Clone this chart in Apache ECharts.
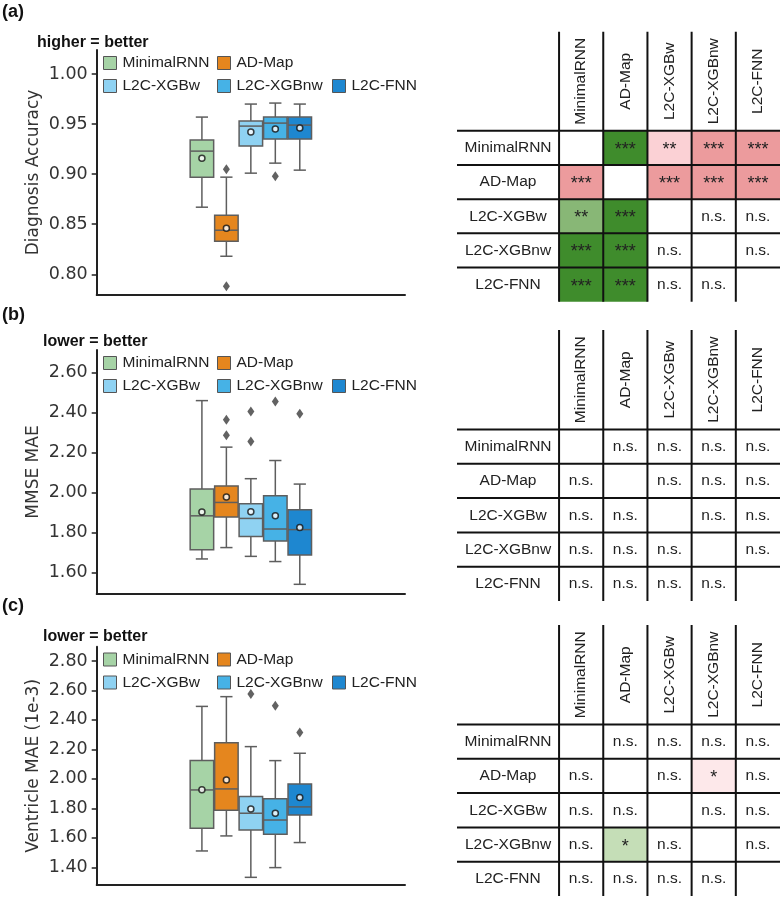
<!DOCTYPE html>
<html><head><meta charset="utf-8">
<script src="https://cdn.jsdelivr.net/npm/echarts@6/dist/echarts.min.js"></script>
<style>html,body{margin:0;padding:0;background:#fff}#c{width:783px;height:899px}</style>
</head><body><div id="c"></div>
<script>
// ---------------- DATA ----------------
const models = ['MinimalRNN', 'AD-Map', 'L2C-XGBw', 'L2C-XGBnw', 'L2C-FNN'];

const accTicks = [0.80, 0.85, 0.90, 0.95, 1.00];
const mmseTicks = [1.60, 1.80, 2.00, 2.20, 2.40, 2.60];
const ventTicks = [1.40, 1.60, 1.80, 2.00, 2.20, 2.40, 2.60, 2.80];

// box stats: [whiskerLow, Q1, median, Q3, whiskerHigh]
const accBox = [
  [0.867, 0.897, 0.923, 0.934, 0.957],
  [0.818, 0.833, 0.844, 0.859, 0.897],
  [0.901, 0.928, 0.948, 0.953, 0.970],
  [0.911, 0.935, 0.951, 0.957, 0.971],
  [0.904, 0.935, 0.949, 0.957, 0.970]
];
const accMean = [0.916, 0.846, 0.942, 0.945, 0.946];
const accOutliers = [[1, 0.905], [1, 0.788], [3, 0.898]];

const mmseBox = [
  [1.667, 1.713, 1.883, 2.017, 2.460],
  [1.724, 1.877, 1.950, 2.033, 2.227],
  [1.680, 1.780, 1.870, 1.944, 2.069],
  [1.654, 1.757, 1.817, 1.984, 2.160],
  [1.540, 1.687, 1.814, 1.914, 2.042]
];
const mmseMean = [1.902, 1.977, 1.904, 1.884, 1.825];
const mmseOutliers = [[1, 2.364], [1, 2.287], [2, 2.405], [2, 2.255], [3, 2.455], [4, 2.394]];

const ventBox = [
  [1.511, 1.665, 1.925, 2.124, 2.492],
  [1.613, 1.787, 1.932, 2.246, 2.558],
  [1.332, 1.653, 1.767, 1.880, 2.219],
  [1.398, 1.624, 1.721, 1.866, 2.124],
  [1.568, 1.755, 1.810, 1.966, 2.174]
];
const ventMean = [1.927, 1.993, 1.796, 1.767, 1.873];
const ventOutliers = [[2, 2.576], [3, 2.497], [4, 2.314]];

// significance tables (row vs column); '+' row better, '-' row worse
const sigAcc = [
  ['', '+***', '-**', '-***', '-***'],
  ['-***', '', '-***', '-***', '-***'],
  ['+**', '+***', '', 'n.s.', 'n.s.'],
  ['+***', '+***', 'n.s.', '', 'n.s.'],
  ['+***', '+***', 'n.s.', 'n.s.', '']
];
const sigMmse = [
  ['', 'n.s.', 'n.s.', 'n.s.', 'n.s.'],
  ['n.s.', '', 'n.s.', 'n.s.', 'n.s.'],
  ['n.s.', 'n.s.', '', 'n.s.', 'n.s.'],
  ['n.s.', 'n.s.', 'n.s.', '', 'n.s.'],
  ['n.s.', 'n.s.', 'n.s.', 'n.s.', '']
];
const sigVent = [
  ['', 'n.s.', 'n.s.', 'n.s.', 'n.s.'],
  ['n.s.', '', 'n.s.', '-*', 'n.s.'],
  ['n.s.', 'n.s.', '', 'n.s.', 'n.s.'],
  ['n.s.', '+*', 'n.s.', '', 'n.s.'],
  ['n.s.', 'n.s.', 'n.s.', 'n.s.', '']
];

// ---------------- STYLE ----------------
const modelColors = ['#a6d3a6', '#e5861e', '#8fd2f2', '#46b2e6', '#1e87d0'];
const sigColors = {
  '+***': '#3f8c2c', '+**': '#88b776', '+*': '#c5deb7',
  '-***': '#ec9b9d', '-**': '#fbd1d5', '-*': '#fde8ea'
};
const SANS = '"Liberation Sans", Arial, sans-serif';
const DJV = '"DejaVu Sans", sans-serif';

const chart = echarts.init(document.getElementById('c'), null, {renderer: 'canvas'});

const boxGrids = [
  {left: 96.7, top: 50, width: 308.3, height: 245},
  {left: 96.7, top: 350, width: 308.3, height: 244},
  {left: 96.7, top: 646.7, width: 308.3, height: 238.3}
];
const tableGrids = [
  {left: 457, top: 31.7, width: 323, height: 270},
  {left: 457, top: 330, width: 323, height: 271},
  {left: 457, top: 625, width: 323, height: 271}
];
const yRanges = [[0.7793, 1.024], [1.4915, 2.7135], [1.28, 2.897]];
const yNames = ['Diagnosis Accuracy', 'MMSE MAE', 'Ventricle MAE (1e-3)'];
const yTicks = [accTicks, mmseTicks, ventTicks];
const boxes = [accBox, mmseBox, ventBox];
const means = [accMean, mmseMean, ventMean];
const outliers = [accOutliers, mmseOutliers, ventOutliers];
const sigs = [sigAcc, sigMmse, sigVent];

const TX_MIN = -2.31, HDR = -2.9;

const grid = [], xAxis = [], yAxis = [], series = [], legend = [], title = [];

function boxRender(params, api) {
  const x = api.value(0);
  const lo = api.value(1), q1 = api.value(2), md = api.value(3), q3 = api.value(4), hi = api.value(5);
  const hw = 0.48, cw = 0.25;
  const tl = api.coord([x - hw, q3]), br = api.coord([x + hw, q1]);
  const cMd = api.coord([x, md]), cLo = api.coord([x, lo]), cHi = api.coord([x, hi]);
  const capL = api.coord([x - cw, lo])[0], capR = api.coord([x + cw, lo])[0];
  const ln = {stroke: '#5e5e5e', lineWidth: 1.5};
  return {type: 'group', children: [
    {type: 'line', shape: {x1: cMd[0], y1: cHi[1], x2: cMd[0], y2: tl[1]}, style: ln},
    {type: 'line', shape: {x1: cMd[0], y1: br[1], x2: cMd[0], y2: cLo[1]}, style: ln},
    {type: 'line', shape: {x1: capL, y1: cHi[1], x2: capR, y2: cHi[1]}, style: ln},
    {type: 'line', shape: {x1: capL, y1: cLo[1], x2: capR, y2: cLo[1]}, style: ln},
    {type: 'rect', shape: {x: tl[0], y: tl[1], width: br[0] - tl[0], height: br[1] - tl[1]},
      style: {fill: api.visual('color'), stroke: '#5e5e5e', lineWidth: 1.5}},
    {type: 'line', shape: {x1: tl[0], y1: cMd[1], x2: br[0], y2: cMd[1]}, style: ln}
  ]};
}

const legendCols = [103, 217, 332];
const legendSlots = [[0, 0], [1, 0], [0, 1], [1, 1], [2, 1]];
const legendRow1 = [61.5, 361.5, 658];
const titleTops = [[2.5, 34], [305, 332.7], [596.5, 627.7]];
const panelLetters = ['a', 'b', 'c'];
const panelNotes = ['higher = better', 'lower = better', 'lower = better'];
const noteLeft = [37, 43, 43];

for (let p = 0; p < 3; p++) {
  grid.push(boxGrids[p]);
  xAxis.push({type: 'value', gridIndex: p, min: -4.3, max: 8.3,
    axisLine: {show: true, onZero: false, lineStyle: {color: '#222', width: 2}},
    axisTick: {show: false}, axisLabel: {show: false}, splitLine: {show: false}});
  yAxis.push({type: 'value', gridIndex: p, min: yRanges[p][0], max: yRanges[p][1],
    name: yNames[p], nameLocation: 'middle', nameGap: 55,
    nameTextStyle: {fontFamily: DJV, fontSize: 17, color: '#333'},
    axisLine: {show: true, onZero: false, lineStyle: {color: '#222', width: 2}},
    axisTick: {show: true, length: 5, customValues: yTicks[p], lineStyle: {color: '#222', width: 1.5}},
    axisLabel: {customValues: yTicks[p], formatter: v => v.toFixed(2), margin: 9,
      fontFamily: DJV, fontSize: 17.5, color: '#333'},
    splitLine: {show: false}});
  for (let m = 0; m < 5; m++) {
    series.push({type: 'custom', name: models[m], xAxisIndex: p, yAxisIndex: p,
      itemStyle: {color: modelColors[m]}, renderItem: boxRender, z: 2,
      data: [[m].concat(boxes[p][m])]});
  }
  series.push({type: 'scatter', xAxisIndex: p, yAxisIndex: p, z: 4, symbol: 'circle', symbolSize: 6,
    itemStyle: {color: '#fff', borderColor: '#111', borderWidth: 1.5}, silent: true,
    data: means[p].map((v, i) => [i, v])});
  series.push({type: 'scatter', xAxisIndex: p, yAxisIndex: p, z: 4, symbol: 'diamond', symbolSize: [7, 10],
    itemStyle: {color: '#3b3b3b'}, silent: true, data: outliers[p]});

  for (let m = 0; m < 5; m++) {
    const [col, row] = legendSlots[m];
    legend.push({data: [models[m]], left: legendCols[col], top: legendRow1[p] + row * 23 - 6.5,
      padding: 0, icon: 'rect', itemWidth: 13, itemHeight: 13, itemGap: 0, selectedMode: false,
      itemStyle: {borderColor: '#555', borderWidth: 1},
      textStyle: {fontFamily: SANS, fontSize: 15.5, color: '#222', lineHeight: 13, padding: [0, 0, 0, 1]}});
  }
  title.push({text: '{p|(}{b|' + panelLetters[p] + '}{p|)}', left: 2, top: titleTops[p][0], padding: 0,
    textStyle: {rich: {p: {fontFamily: SANS, fontSize: 18, color: '#111', lineHeight: 20},
      b: {fontFamily: SANS, fontSize: 18, fontWeight: 'bold', color: '#111', lineHeight: 20}}}});
  title.push({text: panelNotes[p], left: noteLeft[p], top: titleTops[p][1], padding: 0,
    textStyle: {fontFamily: SANS, fontSize: 16, fontWeight: 'bold', color: '#111', lineHeight: 18}});
}

// tables
for (let p = 0; p < 3; p++) {
  const gi = 3 + p;
  grid.push(tableGrids[p]);
  xAxis.push({type: 'value', gridIndex: gi, min: TX_MIN, max: 5, show: false});
  yAxis.push({type: 'value', gridIndex: gi, min: HDR, max: 5, inverse: true, show: false});
  const sig = sigs[p];
  const cells = [];
  for (let r = 0; r < 5; r++) for (let c = 0; c < 5; c++) if (sig[r][c]) cells.push({r, c, s: sig[r][c]});
  series.push({type: 'custom', xAxisIndex: gi, yAxisIndex: gi, z: 2, silent: true,
    data: cells.map(d => [d.c + 0.5, d.r + 0.5]),
    renderItem: (params, api) => {
      const d = cells[params.dataIndex];
      const a = api.coord([d.c, d.r]), b = api.coord([d.c + 1, d.r + 1]);
      const ch = [];
      const fill = sigColors[d.s];
      const isStar = d.s.indexOf('*') >= 0;
      if (fill) ch.push({type: 'rect', shape: {x: a[0], y: a[1], width: b[0] - a[0], height: b[1] - a[1]}, style: {fill}});
      ch.push({type: 'text', x: (a[0] + b[0]) / 2, y: (a[1] + b[1]) / 2 + (isStar ? 2 : 0),
        style: {text: d.s.replace(/^[+-]/, ''), fontFamily: SANS, fontSize: isStar ? 18 : 15.5, fill: '#222', align: 'center', verticalAlign: 'middle'}});
      return {type: 'group', children: ch};
    }});
  // headers & row labels
  const labels = [];
  models.forEach((m, i) => { labels.push({k: 'h', i, t: m}); labels.push({k: 'r', i, t: m}); });
  series.push({type: 'custom', xAxisIndex: gi, yAxisIndex: gi, z: 3, silent: true,
    data: labels.map(d => d.k === 'h' ? [d.i + 0.5, HDR / 2] : [TX_MIN / 2, d.i + 0.5]),
    renderItem: (params, api) => {
      const d = labels[params.dataIndex];
      if (d.k === 'h') {
        const pt = api.coord([d.i + 0.5, HDR / 2]);
        return {type: 'text', x: pt[0], y: pt[1], rotation: Math.PI / 2,
          style: {text: d.t, fontFamily: SANS, fontSize: 15.5, fill: '#222', align: 'center', verticalAlign: 'middle'}};
      }
      const pt = api.coord([TX_MIN / 2, d.i + 0.5]);
      return {type: 'text', x: pt[0], y: pt[1],
        style: {text: d.t, fontFamily: SANS, fontSize: 15.5, fill: '#222', align: 'center', verticalAlign: 'middle'}};
    }});
  // rule lines
  const rules = [];
  for (let i = 0; i < 5; i++) { rules.push({k: 'h', i}); rules.push({k: 'v', i}); }
  series.push({type: 'custom', xAxisIndex: gi, yAxisIndex: gi, z: 5, silent: true,
    data: rules.map(d => d.k === 'h' ? [0, d.i] : [d.i, 0]),
    renderItem: (params, api) => {
      const d = rules[params.dataIndex];
      let a, b;
      if (d.k === 'h') { a = api.coord([TX_MIN, d.i]); b = api.coord([5, d.i]); }
      else { a = api.coord([d.i, HDR]); b = api.coord([d.i, 5]); }
      return {type: 'line', shape: {x1: a[0], y1: a[1], x2: b[0], y2: b[1]}, style: {stroke: '#111', lineWidth: 2}};
    }});
}

chart.setOption({animation: false, backgroundColor: '#fff', title, legend, grid, xAxis, yAxis, series});
</script>
</body></html>
